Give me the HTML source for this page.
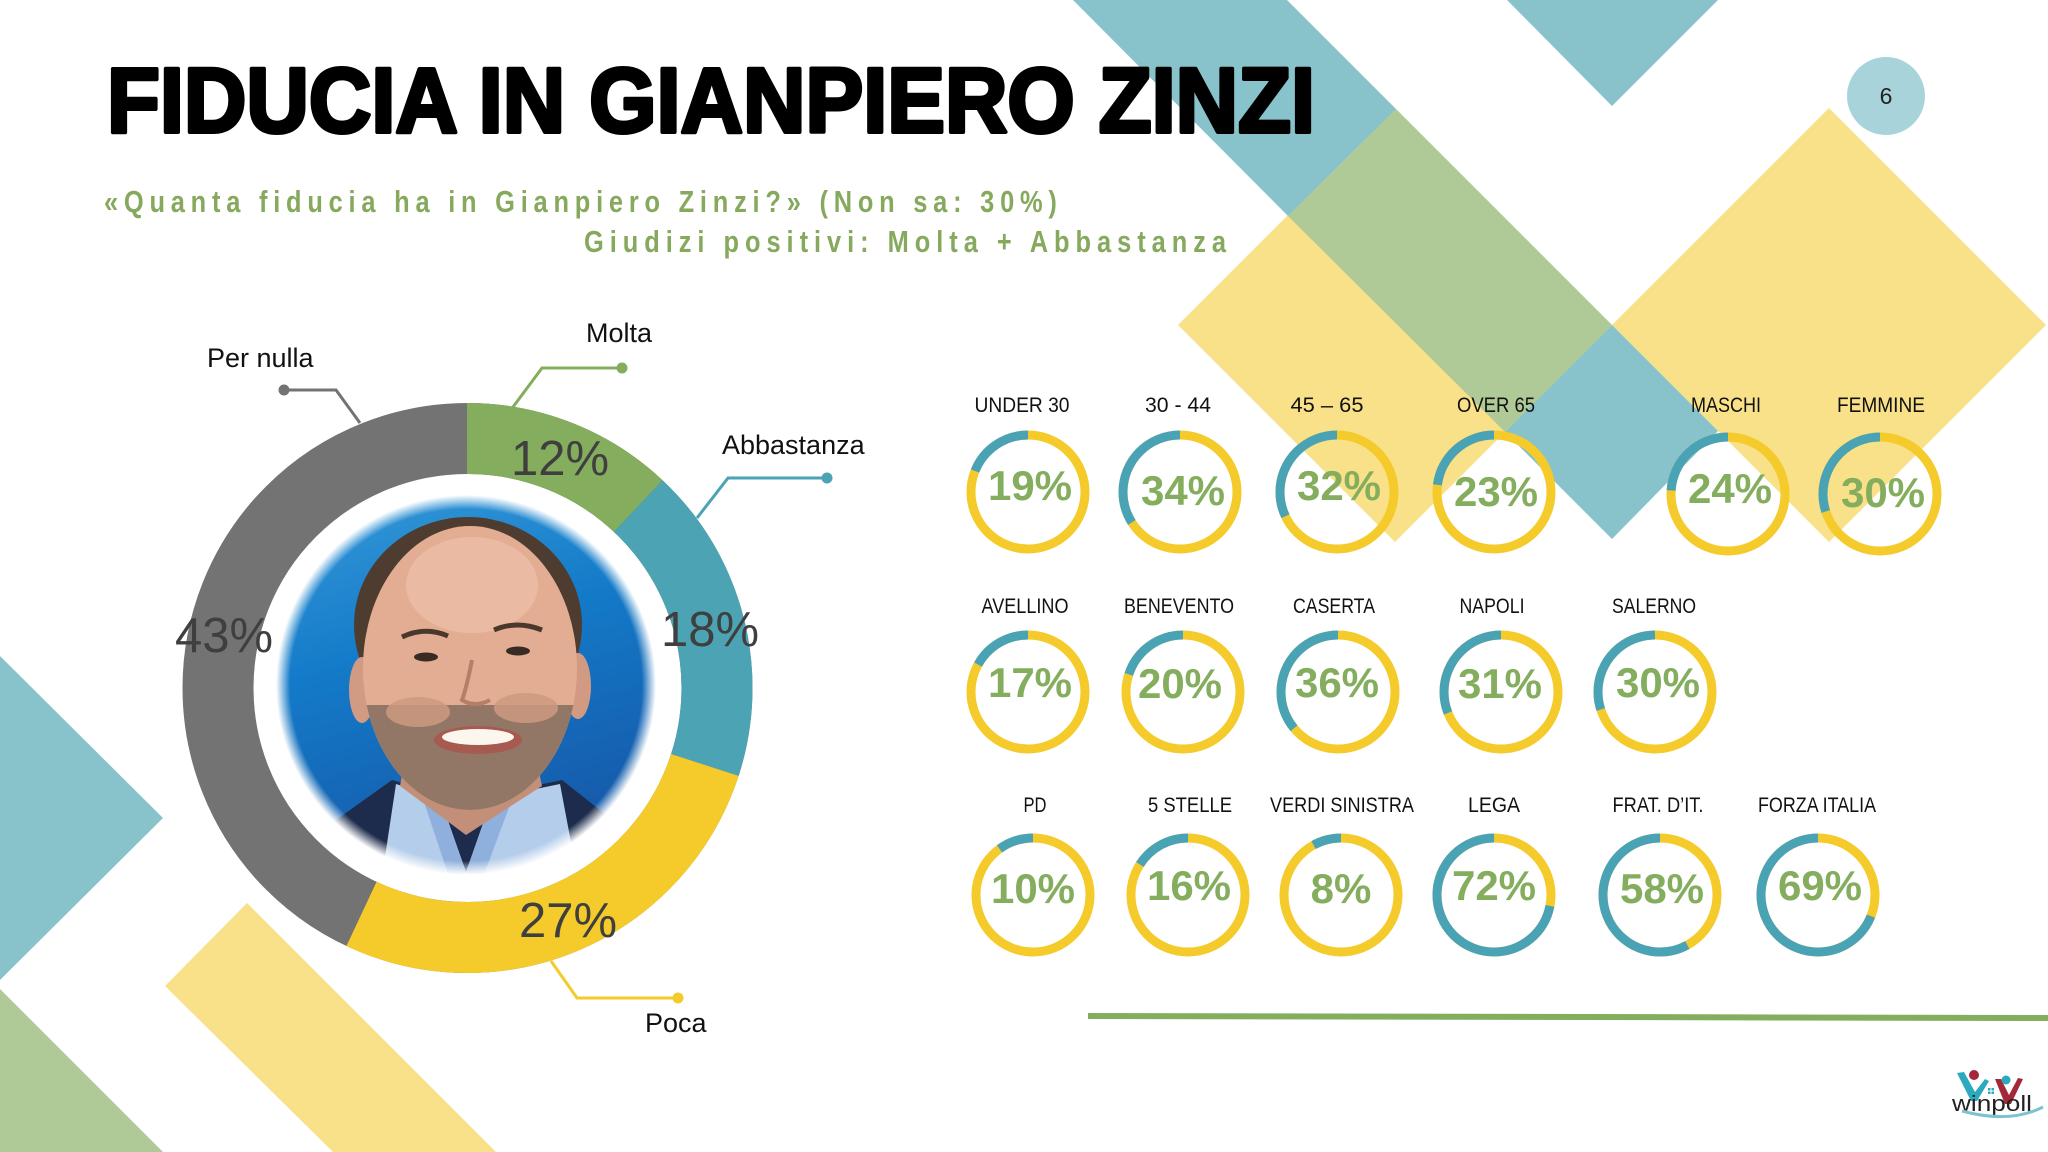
<!DOCTYPE html>
<html>
<head>
<meta charset="utf-8">
<style>
  html,body{margin:0;padding:0;background:#fff;}
  svg{display:block;}
  text{font-family:"Liberation Sans", Arial, sans-serif;}
</style>
</head>
<body>
<svg width="2048" height="1152" viewBox="0 0 2048 1152" xmlns="http://www.w3.org/2000/svg">
  <defs>
    <clipPath id="pc"><circle cx="466" cy="685" r="192"/></clipPath>
    <clipPath id="facec"><ellipse cx="470" cy="668" rx="107" ry="142"/></clipPath>
    <linearGradient id="bgb" x1="0" y1="0" x2="0.3" y2="1">
      <stop offset="0" stop-color="#3a9bd9"/>
      <stop offset="0.45" stop-color="#137bc9"/>
      <stop offset="1" stop-color="#1658a8"/>
    </linearGradient>
    <radialGradient id="feather" cx="466" cy="685" r="200" gradientUnits="userSpaceOnUse">
      <stop offset="0" stop-color="#fff" stop-opacity="0"/>
      <stop offset="0.88" stop-color="#fff" stop-opacity="0"/>
      <stop offset="0.95" stop-color="#fff" stop-opacity="1"/>
      <stop offset="1" stop-color="#fff" stop-opacity="1"/>
    </radialGradient>
  </defs>

  <!-- Background shapes -->
  <polygon points="1178,325 1395,108 1612,325 1395,542" fill="#f8e188"/>
  <polygon points="1612,325 1829,108 2046,325 1829,542" fill="#f8e188"/>
  <polygon points="1288,216 1396,109 1612,325 1505,432" fill="#b0ca97"/>
  <polygon points="1073,0 1287,0 1396,109 1288,216" fill="#88c2cb"/>
  <polygon points="1505,432 1612,325 1718,431 1612,539" fill="#88c2cb"/>
  <polygon points="1507,0 1718,0 1612,106" fill="#88c2cb"/>

  <polygon points="0,656 163,818 0,980" fill="#88c2cb"/>
  <polygon points="0,989 163,1152 0,1152" fill="#b0ca97"/>
  <polygon points="165,986 247,903 496,1152 333,1152" fill="#f8e188"/>

  <!-- Title -->
  <text x="107" y="132" font-size="92" font-weight="bold" fill="#000" stroke="#000" stroke-width="4" stroke-linejoin="round" textLength="1208" lengthAdjust="spacingAndGlyphs">FIDUCIA IN GIANPIERO ZINZI</text>
  <g transform="translate(104 212) scale(0.82 1)">
    <text x="0" y="0" font-size="31" font-weight="bold" fill="#86a95e" textLength="1162" lengthAdjust="spacing">«Quanta fiducia ha in Gianpiero Zinzi?» (Non sa: 30%)</text>
  </g>
  <g transform="translate(584 252) scale(0.82 1)">
    <text x="0" y="0" font-size="31" font-weight="bold" fill="#86a95e" textLength="783" lengthAdjust="spacing">Giudizi positivi: Molta + Abbastanza</text>
  </g>

  <!-- Page number -->
  <circle cx="1886" cy="96" r="39" fill="#a9d3db"/>
  <text x="1886" y="104" font-size="23" text-anchor="middle" fill="#222">6</text>

  <!-- Photo -->
  <g clip-path="url(#pc)">
    <rect x="270" y="490" width="400" height="400" fill="url(#bgb)"/>
    <path d="M290,890 L322,830 L392,780 L466,800 L562,780 L615,822 L650,890 Z" fill="#1d2c4c"/>
    <path d="M396,784 L440,798 L466,872 L492,798 L560,784 L580,890 L380,890 Z" fill="#b4cdea"/>
    <path d="M440,800 L466,872 L450,880 L425,805 Z" fill="#8fb0dc"/>
    <path d="M492,800 L466,872 L482,880 L510,805 Z" fill="#8fb0dc"/>
    <path d="M410,730 L530,730 L542,786 L466,835 L400,786 Z" fill="#c38f79"/>
    <ellipse cx="468" cy="625" rx="114" ry="108" fill="#4e3c30"/>
    <ellipse cx="362" cy="690" rx="13" ry="33" fill="#d29a82"/>
    <ellipse cx="578" cy="686" rx="13" ry="33" fill="#d29a82"/>
    <ellipse cx="470" cy="668" rx="107" ry="142" fill="#e2ad93"/>
    <ellipse cx="472" cy="585" rx="66" ry="48" fill="#eec1a8" opacity="0.7"/>
    <g clip-path="url(#facec)">
      <rect x="355" y="705" width="230" height="120" fill="#937766"/>
      <ellipse cx="418" cy="712" rx="32" ry="15" fill="#cd9a80" opacity="0.85"/>
      <ellipse cx="526" cy="708" rx="32" ry="15" fill="#cd9a80" opacity="0.85"/>
    </g>
    <path d="M402,637 Q425,626 448,636" stroke="#4a382d" stroke-width="5" fill="none"/>
    <path d="M494,630 Q517,620 542,630" stroke="#4a382d" stroke-width="5" fill="none"/>
    <ellipse cx="426" cy="657" rx="12" ry="4.5" fill="#3a2a24"/>
    <ellipse cx="518" cy="651" rx="12" ry="4.5" fill="#3a2a24"/>
    <path d="M472,660 Q466,690 462,700 Q475,708 490,700" stroke="#b57e66" stroke-width="4" fill="none"/>
    <ellipse cx="478" cy="740" rx="44" ry="14" fill="#a65a50"/>
    <ellipse cx="478" cy="737" rx="36" ry="8" fill="#fbf6ee"/>
  </g>
  <circle cx="466" cy="685" r="200" fill="url(#feather)"/>

  <!-- Main donut -->
  <g transform="rotate(-90 467.5 688)" fill="none" stroke-width="71">
    <circle cx="467.5" cy="688" r="249.5" stroke="#737373"/>
    <circle cx="467.5" cy="688" r="249.5" stroke="#84ad5e" pathLength="100" stroke-dasharray="12 88" stroke-dashoffset="0"/>
    <circle cx="467.5" cy="688" r="249.5" stroke="#4ba3b3" pathLength="100" stroke-dasharray="18 82" stroke-dashoffset="-12"/>
    <circle cx="467.5" cy="688" r="249.5" stroke="#f4cb2a" pathLength="100" stroke-dasharray="27 73" stroke-dashoffset="-30"/>
  </g>
  <g font-size="49" fill="#3f3f3f" text-anchor="middle">
    <text x="560" y="475">12%</text>
    <text x="710" y="646">18%</text>
    <text x="224" y="652">43%</text>
    <text x="568" y="937">27%</text>
  </g>

  <!-- Callouts -->
  <g fill="none" stroke-width="3">
    <polyline points="284,390 336,390 360,423" stroke="#737373"/>
    <polyline points="622,368 542,368 513,407" stroke="#84ad5e"/>
    <polyline points="827,478 728,478 697,518" stroke="#4ba3b3"/>
    <polyline points="678,998 577,998 551,961" stroke="#f4cb2a"/>
  </g>
  <circle cx="284" cy="390" r="5.5" fill="#737373"/>
  <circle cx="622" cy="368" r="5.5" fill="#84ad5e"/>
  <circle cx="827" cy="478" r="5.5" fill="#4ba3b3"/>
  <circle cx="678" cy="998" r="5.5" fill="#f4cb2a"/>
  <g font-size="27" fill="#111">
    <text x="207" y="367">Per nulla</text>
    <text x="586" y="342">Molta</text>
    <text x="722" y="454">Abbastanza</text>
    <text x="645" y="1032">Poca</text>
  </g>

  <!-- Small donuts -->
  <g fill="none" stroke-width="9">
    <g transform="translate(1028 492)"><circle r="57" stroke="#f5ca2b"/><circle r="57" stroke="#4aa3b5" pathLength="100" stroke-dasharray="19 100" transform="scale(-1 1) rotate(-90)"/></g>
    <g transform="translate(1180 492)"><circle r="57" stroke="#f5ca2b"/><circle r="57" stroke="#4aa3b5" pathLength="100" stroke-dasharray="34 100" transform="scale(-1 1) rotate(-90)"/></g>
    <g transform="translate(1337 492)"><circle r="57" stroke="#f5ca2b"/><circle r="57" stroke="#4aa3b5" pathLength="100" stroke-dasharray="32 100" transform="scale(-1 1) rotate(-90)"/></g>
    <g transform="translate(1494 492)"><circle r="57" stroke="#f5ca2b"/><circle r="57" stroke="#4aa3b5" pathLength="100" stroke-dasharray="23 100" transform="scale(-1 1) rotate(-90)"/></g>
    <g transform="translate(1728 494)"><circle r="57" stroke="#f5ca2b"/><circle r="57" stroke="#4aa3b5" pathLength="100" stroke-dasharray="24 100" transform="scale(-1 1) rotate(-90)"/></g>
    <g transform="translate(1880 494)"><circle r="57" stroke="#f5ca2b"/><circle r="57" stroke="#4aa3b5" pathLength="100" stroke-dasharray="30 100" transform="scale(-1 1) rotate(-90)"/></g>

    <g transform="translate(1028 692)"><circle r="57" stroke="#f5ca2b"/><circle r="57" stroke="#4aa3b5" pathLength="100" stroke-dasharray="17 100" transform="scale(-1 1) rotate(-90)"/></g>
    <g transform="translate(1183 692)"><circle r="57" stroke="#f5ca2b"/><circle r="57" stroke="#4aa3b5" pathLength="100" stroke-dasharray="20 100" transform="scale(-1 1) rotate(-90)"/></g>
    <g transform="translate(1338 692)"><circle r="57" stroke="#f5ca2b"/><circle r="57" stroke="#4aa3b5" pathLength="100" stroke-dasharray="36 100" transform="scale(-1 1) rotate(-90)"/></g>
    <g transform="translate(1501 692)"><circle r="57" stroke="#f5ca2b"/><circle r="57" stroke="#4aa3b5" pathLength="100" stroke-dasharray="31 100" transform="scale(-1 1) rotate(-90)"/></g>
    <g transform="translate(1655 692)"><circle r="57" stroke="#f5ca2b"/><circle r="57" stroke="#4aa3b5" pathLength="100" stroke-dasharray="30 100" transform="scale(-1 1) rotate(-90)"/></g>

    <g transform="translate(1033 895)"><circle r="57" stroke="#f5ca2b"/><circle r="57" stroke="#4aa3b5" pathLength="100" stroke-dasharray="10 100" transform="scale(-1 1) rotate(-90)"/></g>
    <g transform="translate(1188 895)"><circle r="57" stroke="#f5ca2b"/><circle r="57" stroke="#4aa3b5" pathLength="100" stroke-dasharray="16 100" transform="scale(-1 1) rotate(-90)"/></g>
    <g transform="translate(1341 895)"><circle r="57" stroke="#f5ca2b"/><circle r="57" stroke="#4aa3b5" pathLength="100" stroke-dasharray="8 100" transform="scale(-1 1) rotate(-90)"/></g>
    <g transform="translate(1494 895)"><circle r="57" stroke="#f5ca2b"/><circle r="57" stroke="#4aa3b5" pathLength="100" stroke-dasharray="72 100" transform="scale(-1 1) rotate(-90)"/></g>
    <g transform="translate(1660 895)"><circle r="57" stroke="#f5ca2b"/><circle r="57" stroke="#4aa3b5" pathLength="100" stroke-dasharray="58 100" transform="scale(-1 1) rotate(-90)"/></g>
    <g transform="translate(1818 895)"><circle r="57" stroke="#f5ca2b"/><circle r="57" stroke="#4aa3b5" pathLength="100" stroke-dasharray="69 100" transform="scale(-1 1) rotate(-90)"/></g>
  </g>

  <!-- Small donut percentages -->
  <g font-size="42" font-weight="bold" fill="#84ad5e" text-anchor="middle">
    <text x="1030" y="500">19%</text>
    <text x="1183" y="505">34%</text>
    <text x="1339" y="500">32%</text>
    <text x="1496" y="506">23%</text>
    <text x="1730" y="503">24%</text>
    <text x="1883" y="507">30%</text>

    <text x="1030" y="697">17%</text>
    <text x="1180" y="698">20%</text>
    <text x="1337" y="697">36%</text>
    <text x="1500" y="698">31%</text>
    <text x="1658" y="697">30%</text>

    <text x="1033" y="903">10%</text>
    <text x="1189" y="900">16%</text>
    <text x="1341" y="903">8%</text>
    <text x="1494" y="900">72%</text>
    <text x="1662" y="903">58%</text>
    <text x="1820" y="900">69%</text>
  </g>

  <!-- Small donut labels -->
  <g font-size="21" fill="#111" text-anchor="middle">
    <text x="1022" y="412" textLength="95" lengthAdjust="spacingAndGlyphs">UNDER 30</text>
    <text x="1178" y="412" textLength="66" lengthAdjust="spacingAndGlyphs">30 - 44</text>
    <text x="1327" y="412" textLength="73" lengthAdjust="spacingAndGlyphs">45 – 65</text>
    <text x="1496" y="412" textLength="78" lengthAdjust="spacingAndGlyphs">OVER 65</text>
    <text x="1726" y="412" textLength="70" lengthAdjust="spacingAndGlyphs">MASCHI</text>
    <text x="1881" y="412" textLength="88" lengthAdjust="spacingAndGlyphs">FEMMINE</text>

    <text x="1025" y="613" textLength="87" lengthAdjust="spacingAndGlyphs">AVELLINO</text>
    <text x="1179" y="613" textLength="110" lengthAdjust="spacingAndGlyphs">BENEVENTO</text>
    <text x="1334" y="613" textLength="82" lengthAdjust="spacingAndGlyphs">CASERTA</text>
    <text x="1492" y="613" textLength="65" lengthAdjust="spacingAndGlyphs">NAPOLI</text>
    <text x="1654" y="613" textLength="84" lengthAdjust="spacingAndGlyphs">SALERNO</text>

    <text x="1035" y="812" textLength="23" lengthAdjust="spacingAndGlyphs">PD</text>
    <text x="1190" y="812" textLength="84" lengthAdjust="spacingAndGlyphs">5 STELLE</text>
    <text x="1342" y="812" textLength="144" lengthAdjust="spacingAndGlyphs">VERDI SINISTRA</text>
    <text x="1494" y="812" textLength="52" lengthAdjust="spacingAndGlyphs">LEGA</text>
    <text x="1658" y="812" textLength="91" lengthAdjust="spacingAndGlyphs">FRAT. D’IT.</text>
    <text x="1817" y="812" textLength="118" lengthAdjust="spacingAndGlyphs">FORZA ITALIA</text>
  </g>

  <!-- Green line -->
  <polygon points="1088,1013 2048,1015 2048,1021 1088,1019" fill="#84ad5e"/>

  <!-- Logo -->
  <g>
    <path d="M1957,1073 L1964,1072 L1975,1092 L1985,1079 L1989,1081 L1977,1101 L1971,1101 Z" fill="#2aa9bf"/>
    <circle cx="1974" cy="1075" r="5" fill="#a3283a"/>
    <path d="M1995,1079 L2001,1079 L2009,1095 L2018,1078 L2023,1079 L2011,1104 L2005,1104 Z" fill="#a3283a"/>
    <circle cx="2006" cy="1080" r="4.5" fill="#2aa9bf"/>
    <rect x="1988" y="1088" width="2.5" height="2.5" fill="#2aa9bf"/>
    <rect x="1991.5" y="1088" width="2.5" height="2.5" fill="#2aa9bf"/>
    <rect x="1988" y="1091.5" width="2.5" height="2.5" fill="#2aa9bf"/>
    <rect x="1991.5" y="1091.5" width="2.5" height="2.5" fill="#2aa9bf"/>
    <text x="1952" y="1111" font-size="22" fill="#222" textLength="80" lengthAdjust="spacingAndGlyphs">winpoll</text>
    <path d="M1962,1111 Q2010,1124 2043,1107" stroke="#7cc3d0" stroke-width="3" fill="none"/>
  </g>
</svg>
</body>
</html>
